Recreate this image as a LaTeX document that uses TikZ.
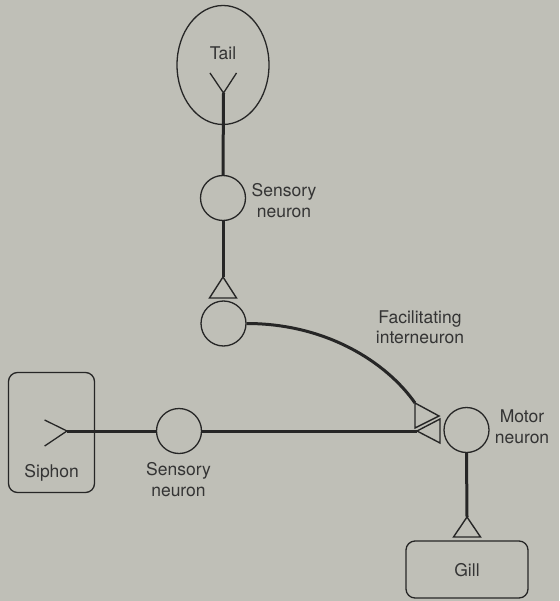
\documentclass[tikz,border=0pt]{standalone}
\usepackage{fontspec}
\setmainfont{TeX Gyre Heros}
\usetikzlibrary{shapes.geometric}
\definecolor{paper}{RGB}{191,191,183}
\definecolor{ink}{RGB}{38,38,38}
\definecolor{inktext}{RGB}{52,52,52}
\begin{document}
\begin{tikzpicture}[x=1pt,y=-1pt,
  outline/.style={draw=ink, line width=1.3pt},
  axon/.style={draw=ink, line width=3pt},
  terminal/.style={draw=ink, line width=1.4pt, line join=miter},
  cell/.style={circle, draw=ink, line width=1.3pt, minimum size=45pt, inner sep=0pt},
  organ/.style={rectangle, rounded corners=9pt, draw=ink, line width=1.3pt, inner sep=0pt},
  caption/.style={text=inktext, font=\fontsize{17.5}{20.5}\selectfont, inner sep=0pt, align=center}]

% page
\fill[paper] (0,0) rectangle (559,601);
\useasboundingbox (0,0) rectangle (559,601);

% organs
\node[ellipse, draw=ink, line width=1.3pt, minimum width=92pt, minimum height=119pt, inner sep=0pt] (tail) at (223,65) {};
\node[caption, anchor=base] (tailtext) at (223,60) {Tail};
\node[organ, minimum width=86pt, minimum height=120pt] (siphon) at (51.5,432.5) {};
\node[caption, anchor=base] (siphontext) at (51.7,477) {Siphon};
\node[organ, minimum width=122pt, minimum height=57pt] (gill) at (467,569.5) {};
\node[caption, anchor=base] (gilltext) at (467,576.7) {Gill};

% cell bodies
\node[cell] (sn1) at (223,198) {};
\node[cell] (fi) at (223.5,323.5) {};
\node[cell] (sn2) at (179,431) {};
\node[cell] (mn) at (466.5,430) {};

% labels
\node[caption] (sn1text) at (284,200.4) {Sensory\\neuron};
\node[caption] (sn2text) at (178.5,479.4) {Sensory\\neuron};
\node[caption] (fitext) at (420,327) {Facilitating\\interneuron};
\node[caption] (mntext) at (522,426.5) {Motor\\neuron};

% receptor endings
\coordinate (tailfork) at (223.5,93);
\coordinate (tailL) at (210,73);
\coordinate (tailR) at (236.5,73);
\draw[outline] (tailL) -- (tailfork) -- (tailR);
\coordinate (sifork) at (67,431);
\coordinate (siU) at (44.6,420);
\coordinate (siD) at (44.6,446);
\draw[outline] (siU) -- (sifork) -- (siD);

% synaptic terminals
\coordinate (t1tip) at (223,277);
\draw[terminal] (t1tip) -- ++(-13.5,21) -- ++(27,0) -- cycle;
\coordinate (gtip) at (467,517);
\draw[terminal] (gtip) -- ++(-13.5,20) -- ++(27,0) -- cycle;
\coordinate (fiend) at (415,403);
\draw[terminal] (fiend) -- (415,428) -- (439,416) -- cycle;
\coordinate (sntip) at (417,431);
\draw[terminal] (sntip) -- (440,419) -- (440,443) -- cycle;

% axons
\draw[axon] (tailfork) -- (sn1.north);
\draw[axon] (sn1.south) -- (t1tip);
\draw[axon] (fi.east) .. controls (326,323.5) and (386.3,362) .. (fiend);
\draw[axon] (sifork) -- (sn2.west);
\draw[axon] (sn2.east) -- (sntip);
\draw[axon] (mn.south) -- (gtip);
\end{tikzpicture}
\end{document}
